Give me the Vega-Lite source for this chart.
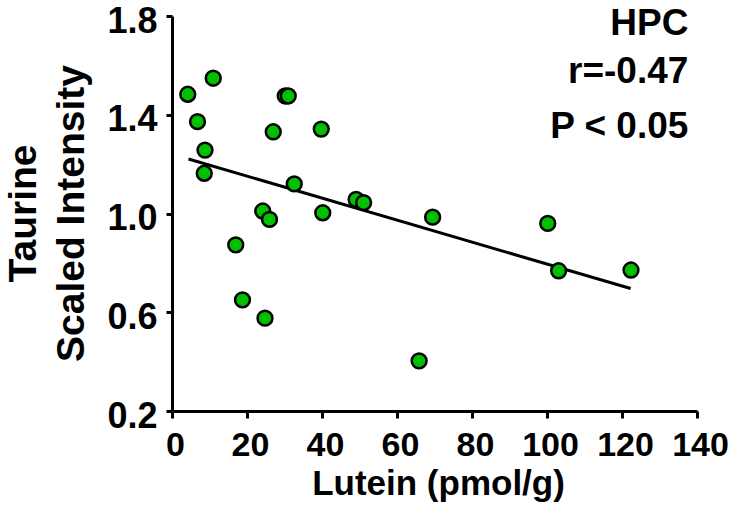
{
  "$schema": "https://vega.github.io/schema/vega-lite/v6.json",
  "autosize": "none",
  "width": 525,
  "height": 395,
  "padding": {"left": 172, "top": 16, "right": 36, "bottom": 113},
  "background": "white",
  "config": {
    "view": {"stroke": null},
    "font": "Liberation Sans",
    "axis": {
      "grid": false,
      "domainColor": "black",
      "domainWidth": 3,
      "tickColor": "black",
      "tickWidth": 3,
      "labelColor": "black",
      "titleColor": "black",
      "labelFont": "Liberation Sans",
      "titleFont": "Liberation Sans",
      "labelFontWeight": "bold",
      "titleFontWeight": "bold"
    }
  },
  "datasets": {
    "pts": [
      {"lutein": 4.2, "taurine": 1.483},
      {"lutein": 11.0, "taurine": 1.548},
      {"lutein": 6.8, "taurine": 1.372},
      {"lutein": 8.8, "taurine": 1.257},
      {"lutein": 8.6, "taurine": 1.163},
      {"lutein": 30.2, "taurine": 1.476},
      {"lutein": 31.0, "taurine": 1.476},
      {"lutein": 27.0, "taurine": 1.331},
      {"lutein": 39.8, "taurine": 1.342},
      {"lutein": 32.6, "taurine": 1.12},
      {"lutein": 24.2, "taurine": 1.01},
      {"lutein": 26.0, "taurine": 0.976},
      {"lutein": 40.2, "taurine": 1.003},
      {"lutein": 49.1, "taurine": 1.057},
      {"lutein": 51.1, "taurine": 1.044},
      {"lutein": 69.5, "taurine": 0.985},
      {"lutein": 17.0, "taurine": 0.873},
      {"lutein": 18.8, "taurine": 0.650},
      {"lutein": 24.8, "taurine": 0.576},
      {"lutein": 100.2, "taurine": 0.96},
      {"lutein": 103.1, "taurine": 0.768},
      {"lutein": 122.4, "taurine": 0.771},
      {"lutein": 65.9, "taurine": 0.403}
    ],
    "fit": [
      {"lutein": 4.4, "taurine": 1.221},
      {"lutein": 122.3, "taurine": 0.696}
    ],
    "notes": [
      {"lutein": 137.7, "taurine": 1.723, "label": "HPC"},
      {"lutein": 137.7, "taurine": 1.528, "label": "r=-0.47"},
      {"lutein": 137.7, "taurine": 1.305, "label": "P < 0.05"}
    ]
  },
  "layer": [
    {
      "data": {"name": "fit"},
      "mark": {"type": "line", "color": "black", "strokeWidth": 3},
      "encoding": {
        "x": {
          "field": "lutein", "type": "quantitative",
          "scale": {"domain": [0, 140], "nice": false, "zero": false},
          "axis": {
            "title": "Lutein (pmol/g)",
            "values": [0, 20, 40, 60, 80, 100, 120, 140],
            "tickSize": 7,
            "labelFontSize": 34,
            "labelPadding": 10,
            "labelOffset": 3,
            "labelBaseline": "top",
            "labelFlush": false,
            "labelOverlap": false,
            "titleFontSize": 35,
            "titleBaseline": "alphabetic",
            "titleY": 83,
            "titleX": 266
          }
        },
        "y": {
          "field": "taurine", "type": "quantitative",
          "scale": {"domain": [0.2, 1.8], "nice": false, "zero": false},
          "axis": {
            "title": ["Taurine", "Scaled Intensity"],
            "values": [0.2, 0.6, 1.0, 1.4, 1.8],
            "format": ".1f",
            "tickSize": 6,
            "labelFontSize": 36,
            "labelPadding": 9,
            "labelOffset": 5,
            "labelFlush": false,
            "labelOverlap": false,
            "titleFontSize": 39,
            "titleLineHeight": 48,
            "titleAngle": -90,
            "titleAlign": "center",
            "titleBaseline": "top",
            "titleX": -168,
            "titleY": 197
          }
        }
      }
    },
    {
      "data": {"name": "pts"},
      "mark": {"type": "point", "shape": "circle", "filled": true, "fill": "#00c000", "stroke": "black", "strokeWidth": 2.5, "size": 220, "opacity": 1},
      "encoding": {
        "x": {"field": "lutein", "type": "quantitative"},
        "y": {"field": "taurine", "type": "quantitative"}
      }
    },
    {
      "data": {"name": "notes"},
      "mark": {"type": "text", "align": "right", "baseline": "alphabetic", "fontSize": 37, "fontWeight": "bold", "font": "Liberation Sans", "color": "black"},
      "encoding": {
        "x": {"field": "lutein", "type": "quantitative"},
        "y": {"field": "taurine", "type": "quantitative"},
        "text": {"field": "label"}
      }
    }
  ]
}
